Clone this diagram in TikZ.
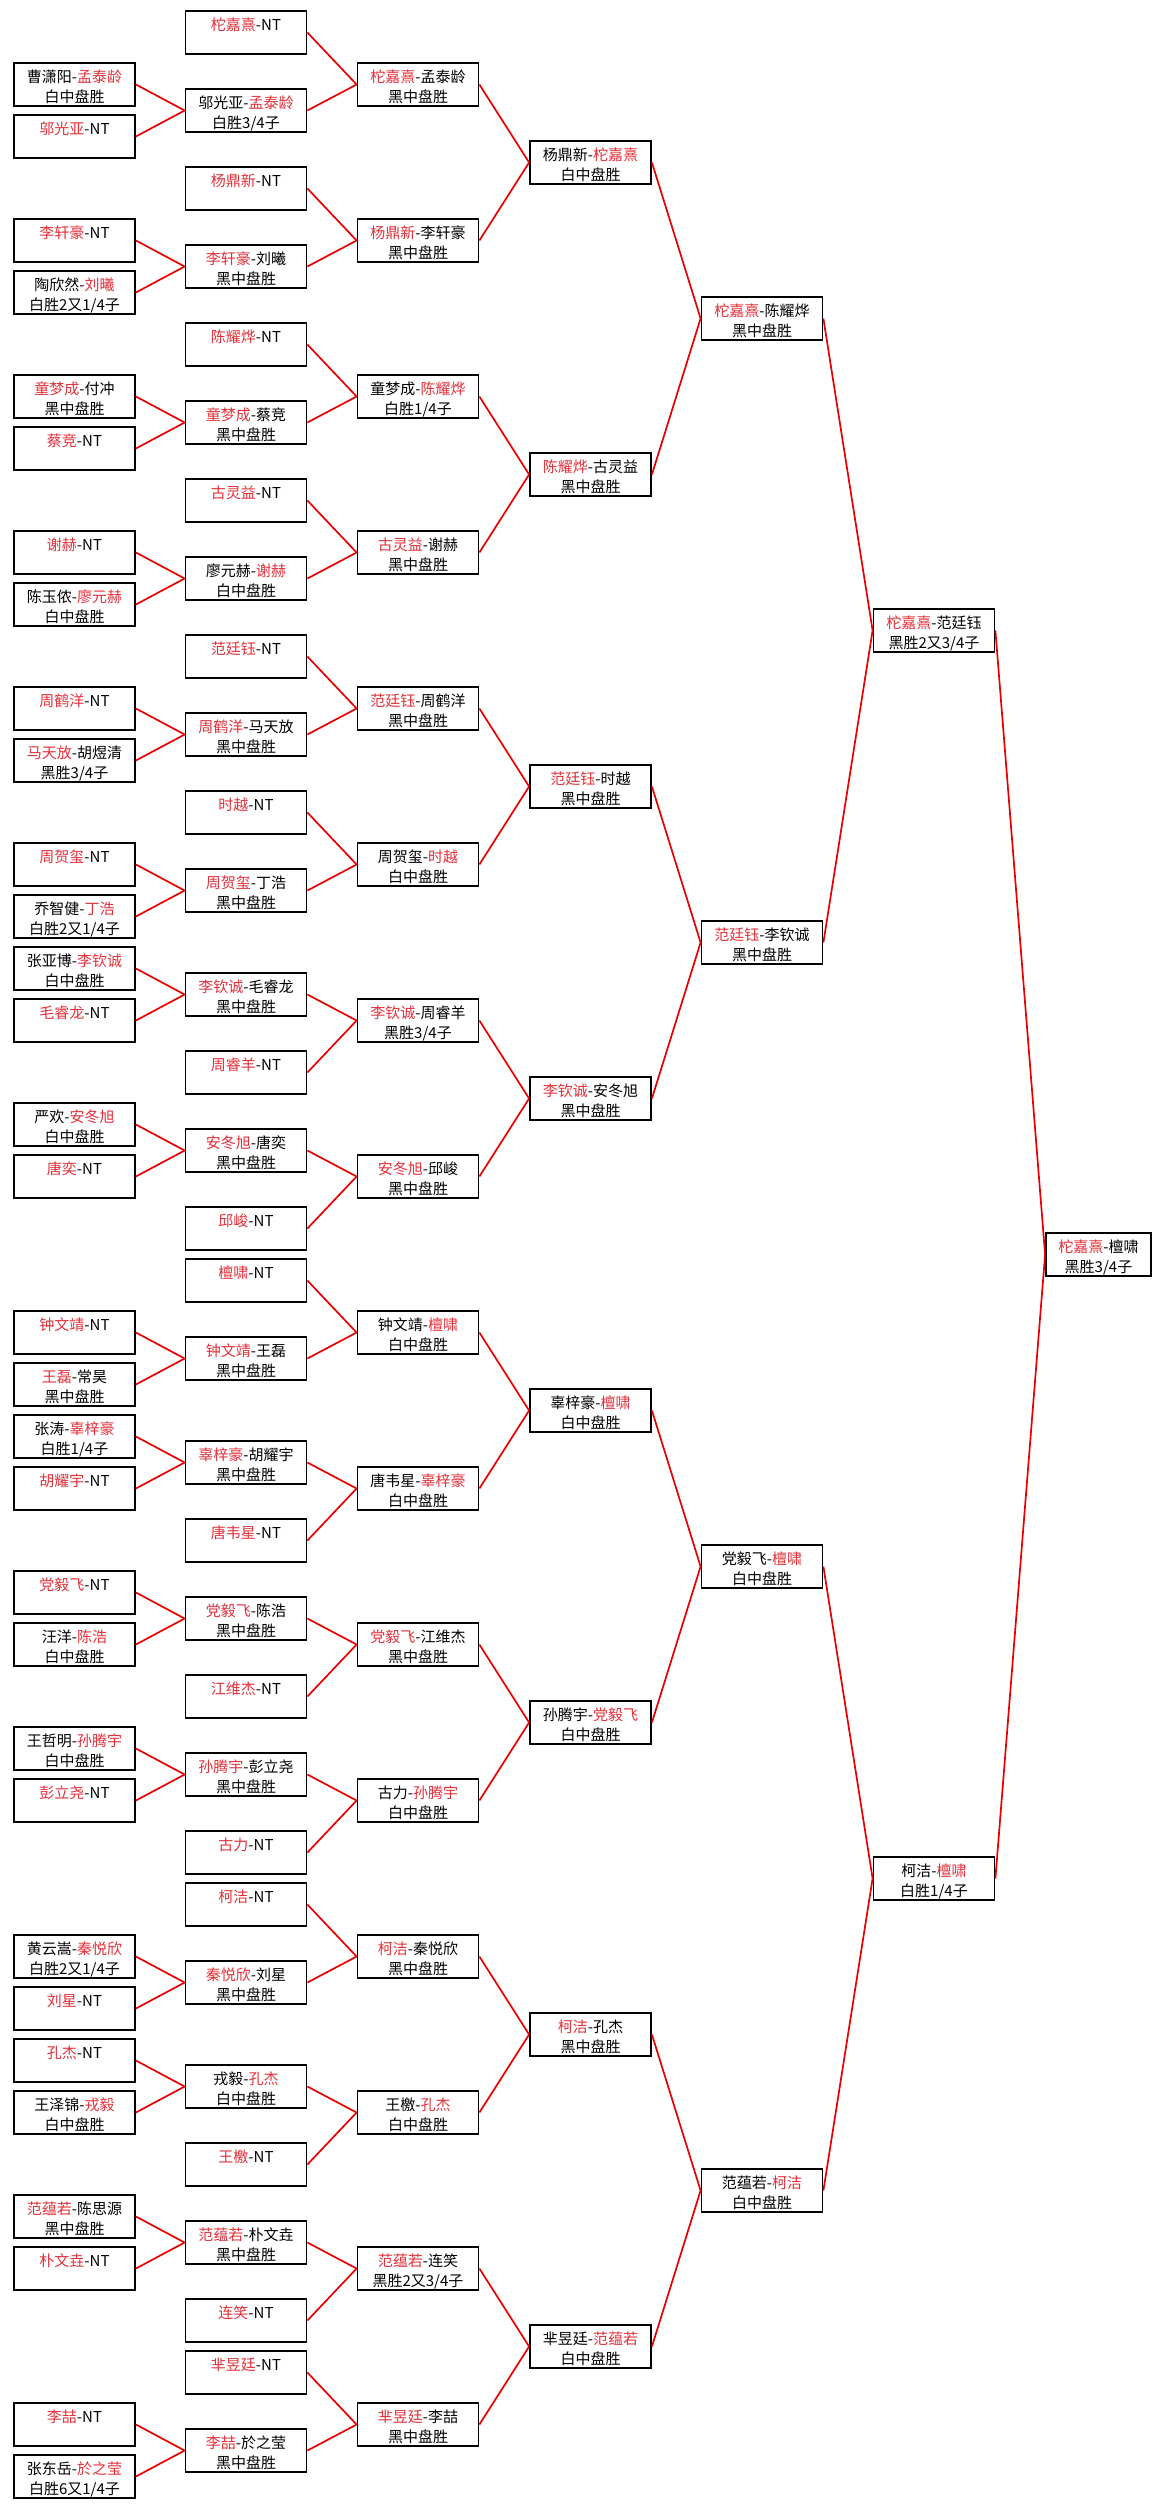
\documentclass[tikz,border=0pt]{standalone}
\usepackage{fontspec}
\setmainfont{Noto Sans CJK SC}
\definecolor{nmred}{RGB}{228,48,58}
\definecolor{lnred}{RGB}{232,0,0}
\newcommand\redn[1]{\textcolor{nmred}{#1}}
\tikzset{
  bx/.style={draw=black,line width=1.8pt,fill=white,minimum height=43pt,inner sep=0pt},
  tx/.style={inner sep=0pt,text height=13pt,text depth=2pt,font=\fontsize{15pt}{20pt}\selectfont},
  ln/.style={draw=lnred,line width=1.7pt}
}
\newcommand\BoxN[6]{%
  \node[bx,minimum width=#4] (#1) at (#2,{32.5+52*#3}) {};
  \node[tx] at ([yshift=7.5pt]#1.center) {#5};
  \node[tx] at ([yshift=-12.5pt]#1.center) {#6};
}
\begin{document}
\begin{tikzpicture}[x=1pt,y=-1pt]
\useasboundingbox (0,0) rectangle (1162,2509);
\fill[white] (0,0) rectangle (1162,2509);
% column 0
\def\W{121pt}
\BoxN{a1}{74.5}{1}{\W}{曹潇阳-\redn{孟泰龄}}{白中盘胜}
\BoxN{a2}{74.5}{2}{\W}{\redn{邬光亚}-NT}{}
\BoxN{a4}{74.5}{4}{\W}{\redn{李轩豪}-NT}{}
\BoxN{a5}{74.5}{5}{\W}{陶欣然-\redn{刘曦}}{白胜2又1/4子}
\BoxN{a7}{74.5}{7}{\W}{\redn{童梦成}-付冲}{黑中盘胜}
\BoxN{a8}{74.5}{8}{\W}{\redn{蔡竞}-NT}{}
\BoxN{a10}{74.5}{10}{\W}{\redn{谢赫}-NT}{}
\BoxN{a11}{74.5}{11}{\W}{陈玉侬-\redn{廖元赫}}{白中盘胜}
\BoxN{a13}{74.5}{13}{\W}{\redn{周鹤洋}-NT}{}
\BoxN{a14}{74.5}{14}{\W}{\redn{马天放}-胡煜清}{黑胜3/4子}
\BoxN{a16}{74.5}{16}{\W}{\redn{周贺玺}-NT}{}
\BoxN{a17}{74.5}{17}{\W}{乔智健-\redn{丁浩}}{白胜2又1/4子}
\BoxN{a18}{74.5}{18}{\W}{张亚博-\redn{李钦诚}}{白中盘胜}
\BoxN{a19}{74.5}{19}{\W}{\redn{毛睿龙}-NT}{}
\BoxN{a21}{74.5}{21}{\W}{严欢-\redn{安冬旭}}{白中盘胜}
\BoxN{a22}{74.5}{22}{\W}{\redn{唐奕}-NT}{}
\BoxN{a25}{74.5}{25}{\W}{\redn{钟文靖}-NT}{}
\BoxN{a26}{74.5}{26}{\W}{\redn{王磊}-常昊}{黑中盘胜}
\BoxN{a27}{74.5}{27}{\W}{张涛-\redn{辜梓豪}}{白胜1/4子}
\BoxN{a28}{74.5}{28}{\W}{\redn{胡耀宇}-NT}{}
\BoxN{a30}{74.5}{30}{\W}{\redn{党毅飞}-NT}{}
\BoxN{a31}{74.5}{31}{\W}{汪洋-\redn{陈浩}}{白中盘胜}
\BoxN{a33}{74.5}{33}{\W}{王哲明-\redn{孙腾宇}}{白中盘胜}
\BoxN{a34}{74.5}{34}{\W}{\redn{彭立尧}-NT}{}
\BoxN{a37}{74.5}{37}{\W}{黄云嵩-\redn{秦悦欣}}{白胜2又1/4子}
\BoxN{a38}{74.5}{38}{\W}{\redn{刘星}-NT}{}
\BoxN{a39}{74.5}{39}{\W}{\redn{孔杰}-NT}{}
\BoxN{a40}{74.5}{40}{\W}{王泽锦-\redn{戎毅}}{白中盘胜}
\BoxN{a42}{74.5}{42}{\W}{\redn{范蕴若}-陈思源}{黑中盘胜}
\BoxN{a43}{74.5}{43}{\W}{\redn{朴文垚}-NT}{}
\BoxN{a46}{74.5}{46}{\W}{\redn{李喆}-NT}{}
\BoxN{a47}{74.5}{47}{\W}{张东岳-\redn{於之莹}}{白胜6又1/4子}
% column 1
\BoxN{b0}{246}{0}{\W}{\redn{柁嘉熹}-NT}{}
\BoxN{b1x}{246}{1.5}{\W}{邬光亚-\redn{孟泰龄}}{白胜3/4子}
\BoxN{b3}{246}{3}{\W}{\redn{杨鼎新}-NT}{}
\BoxN{b4x}{246}{4.5}{\W}{\redn{李轩豪}-刘曦}{黑中盘胜}
\BoxN{b6}{246}{6}{\W}{\redn{陈耀烨}-NT}{}
\BoxN{b7x}{246}{7.5}{\W}{\redn{童梦成}-蔡竞}{黑中盘胜}
\BoxN{b9}{246}{9}{\W}{\redn{古灵益}-NT}{}
\BoxN{b10x}{246}{10.5}{\W}{廖元赫-\redn{谢赫}}{白中盘胜}
\BoxN{b12}{246}{12}{\W}{\redn{范廷钰}-NT}{}
\BoxN{b13x}{246}{13.5}{\W}{\redn{周鹤洋}-马天放}{黑中盘胜}
\BoxN{b15}{246}{15}{\W}{\redn{时越}-NT}{}
\BoxN{b16x}{246}{16.5}{\W}{\redn{周贺玺}-丁浩}{黑中盘胜}
\BoxN{b18x}{246}{18.5}{\W}{\redn{李钦诚}-毛睿龙}{黑中盘胜}
\BoxN{b20}{246}{20}{\W}{\redn{周睿羊}-NT}{}
\BoxN{b21x}{246}{21.5}{\W}{\redn{安冬旭}-唐奕}{黑中盘胜}
\BoxN{b23}{246}{23}{\W}{\redn{邱峻}-NT}{}
\BoxN{b24}{246}{24}{\W}{\redn{檀啸}-NT}{}
\BoxN{b25x}{246}{25.5}{\W}{\redn{钟文靖}-王磊}{黑中盘胜}
\BoxN{b27x}{246}{27.5}{\W}{\redn{辜梓豪}-胡耀宇}{黑中盘胜}
\BoxN{b29}{246}{29}{\W}{\redn{唐韦星}-NT}{}
\BoxN{b30x}{246}{30.5}{\W}{\redn{党毅飞}-陈浩}{黑中盘胜}
\BoxN{b32}{246}{32}{\W}{\redn{江维杰}-NT}{}
\BoxN{b33x}{246}{33.5}{\W}{\redn{孙腾宇}-彭立尧}{黑中盘胜}
\BoxN{b35}{246}{35}{\W}{\redn{古力}-NT}{}
\BoxN{b36}{246}{36}{\W}{\redn{柯洁}-NT}{}
\BoxN{b37x}{246}{37.5}{\W}{\redn{秦悦欣}-刘星}{黑中盘胜}
\BoxN{b39x}{246}{39.5}{\W}{戎毅-\redn{孔杰}}{白中盘胜}
\BoxN{b41}{246}{41}{\W}{\redn{王檄}-NT}{}
\BoxN{b42x}{246}{42.5}{\W}{\redn{范蕴若}-朴文垚}{黑中盘胜}
\BoxN{b44}{246}{44}{\W}{\redn{连笑}-NT}{}
\BoxN{b45}{246}{45}{\W}{\redn{芈昱廷}-NT}{}
\BoxN{b46x}{246}{46.5}{\W}{\redn{李喆}-於之莹}{黑中盘胜}
% column 2
\BoxN{c1}{418}{1}{\W}{\redn{柁嘉熹}-孟泰龄}{黑中盘胜}
\BoxN{c4}{418}{4}{\W}{\redn{杨鼎新}-李轩豪}{黑中盘胜}
\BoxN{c7}{418}{7}{\W}{童梦成-\redn{陈耀烨}}{白胜1/4子}
\BoxN{c10}{418}{10}{\W}{\redn{古灵益}-谢赫}{黑中盘胜}
\BoxN{c13}{418}{13}{\W}{\redn{范廷钰}-周鹤洋}{黑中盘胜}
\BoxN{c16}{418}{16}{\W}{周贺玺-\redn{时越}}{白中盘胜}
\BoxN{c19}{418}{19}{\W}{\redn{李钦诚}-周睿羊}{黑胜3/4子}
\BoxN{c22}{418}{22}{\W}{\redn{安冬旭}-邱峻}{黑中盘胜}
\BoxN{c25}{418}{25}{\W}{钟文靖-\redn{檀啸}}{白中盘胜}
\BoxN{c28}{418}{28}{\W}{唐韦星-\redn{辜梓豪}}{白中盘胜}
\BoxN{c31}{418}{31}{\W}{\redn{党毅飞}-江维杰}{黑中盘胜}
\BoxN{c34}{418}{34}{\W}{古力-\redn{孙腾宇}}{白中盘胜}
\BoxN{c37}{418}{37}{\W}{\redn{柯洁}-秦悦欣}{黑中盘胜}
\BoxN{c40}{418}{40}{\W}{王檄-\redn{孔杰}}{白中盘胜}
\BoxN{c43}{418}{43}{\W}{\redn{范蕴若}-连笑}{黑胜2又3/4子}
\BoxN{c46}{418}{46}{\W}{\redn{芈昱廷}-李喆}{黑中盘胜}
% column 3
\BoxN{d2}{590.5}{2.5}{\W}{杨鼎新-\redn{柁嘉熹}}{白中盘胜}
\BoxN{d8}{590.5}{8.5}{\W}{\redn{陈耀烨}-古灵益}{黑中盘胜}
\BoxN{d14}{590.5}{14.5}{\W}{\redn{范廷钰}-时越}{黑中盘胜}
\BoxN{d20}{590.5}{20.5}{\W}{\redn{李钦诚}-安冬旭}{黑中盘胜}
\BoxN{d26}{590.5}{26.5}{\W}{辜梓豪-\redn{檀啸}}{白中盘胜}
\BoxN{d32}{590.5}{32.5}{\W}{孙腾宇-\redn{党毅飞}}{白中盘胜}
\BoxN{d38}{590.5}{38.5}{\W}{\redn{柯洁}-孔杰}{黑中盘胜}
\BoxN{d44}{590.5}{44.5}{\W}{芈昱廷-\redn{范蕴若}}{白中盘胜}
% column 4
\BoxN{e5}{762}{5.5}{\W}{\redn{柁嘉熹}-陈耀烨}{黑中盘胜}
\BoxN{e17}{762}{17.5}{\W}{\redn{范廷钰}-李钦诚}{黑中盘胜}
\BoxN{e29}{762}{29.5}{\W}{党毅飞-\redn{檀啸}}{白中盘胜}
\BoxN{e41}{762}{41.5}{\W}{范蕴若-\redn{柯洁}}{白中盘胜}
% column 5
\BoxN{f11}{934}{11.5}{\W}{\redn{柁嘉熹}-范廷钰}{黑胜2又3/4子}
\BoxN{f35}{934}{35.5}{\W}{柯洁-\redn{檀啸}}{白胜1/4子}
% final
\BoxN{g}{1098.5}{23.5}{105pt}{\redn{柁嘉熹}-檀啸}{黑胜3/4子}
% connectors
\foreach \p/\c in {b1x/a1,b1x/a2,b4x/a4,b4x/a5,b7x/a7,b7x/a8,b10x/a10,b10x/a11,
  b13x/a13,b13x/a14,b16x/a16,b16x/a17,b18x/a18,b18x/a19,b21x/a21,b21x/a22,
  b25x/a25,b25x/a26,b27x/a27,b27x/a28,b30x/a30,b30x/a31,b33x/a33,b33x/a34,
  b37x/a37,b37x/a38,b39x/a39,b39x/a40,b42x/a42,b42x/a43,b46x/a46,b46x/a47,
  c1/b0,c1/b1x,c4/b3,c4/b4x,c7/b6,c7/b7x,c10/b9,c10/b10x,c13/b12,c13/b13x,
  c16/b15,c16/b16x,c19/b18x,c19/b20,c22/b21x,c22/b23,c25/b24,c25/b25x,
  c28/b27x,c28/b29,c31/b30x,c31/b32,c34/b33x,c34/b35,c37/b36,c37/b37x,
  c40/b39x,c40/b41,c43/b42x,c43/b44,c46/b45,c46/b46x,
  d2/c1,d2/c4,d8/c7,d8/c10,d14/c13,d14/c16,d20/c19,d20/c22,
  d26/c25,d26/c28,d32/c31,d32/c34,d38/c37,d38/c40,d44/c43,d44/c46,
  e5/d2,e5/d8,e17/d14,e17/d20,e29/d26,e29/d32,e41/d38,e41/d44,
  f11/e5,f11/e17,f35/e29,f35/e41,g/f11,g/f35}
  \draw[ln] (\c.east) -- (\p.west);
\end{tikzpicture}
\end{document}
